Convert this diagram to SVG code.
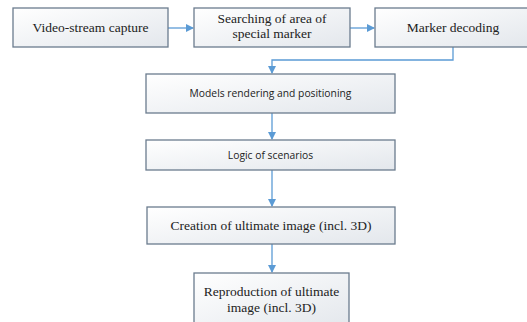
<svg xmlns="http://www.w3.org/2000/svg" width="527" height="322" viewBox="0 0 527 322">
<style>
.box{fill:url(#g);stroke:#6b7c8e;stroke-width:1.3}
.serif{font-family:"Liberation Serif","Times New Roman",serif;font-size:13.5px;fill:#222;text-anchor:middle}
.sans{font-family:"Open Sans","Liberation Sans",sans-serif;font-size:10.3px;fill:#222;text-anchor:middle}
.con{fill:none;stroke:#5b9bd5;stroke-width:1.3}
</style>
<defs>
<linearGradient id="g" x1="0" y1="0" x2="1" y2="1">
<stop offset="0" stop-color="#ffffff"/>
<stop offset="1" stop-color="#e3e7ec"/>
</linearGradient>
<marker id="a" markerWidth="8" markerHeight="8" refX="7" refY="4" orient="auto" markerUnits="userSpaceOnUse">
<path d="M0,0 L8,4 L0,8 Z" fill="#5b9bd5"/>
</marker>
</defs>
<rect width="527" height="322" fill="#fff"/>
<g id="connectors">
<line class="con" x1="168" y1="28" x2="193" y2="28" marker-end="url(#a)"/>
<line class="con" x1="350" y1="28" x2="374" y2="28" marker-end="url(#a)"/>
<polyline class="con" points="453,47 453,60 272,60 272,73" marker-end="url(#a)"/>
<line class="con" x1="272" y1="113" x2="272" y2="139" marker-end="url(#a)"/>
<line class="con" x1="272" y1="170" x2="272" y2="206" marker-end="url(#a)"/>
<line class="con" x1="272" y1="244" x2="272" y2="272" marker-end="url(#a)"/>
</g>
<g id="n1"><rect class="box" x="13" y="8" width="155" height="39"/><text class="serif" x="90.5" y="32">Video-stream capture</text></g>
<g id="n2"><rect class="box" x="194" y="8" width="156" height="39"/><text class="serif" x="272" y="23">Searching of area of</text><text class="serif" x="272" y="38">special marker</text></g>
<g id="n3"><rect class="box" x="375" y="8" width="156" height="39"/><text class="serif" x="453" y="32">Marker decoding</text></g>
<g id="n4"><rect class="box" x="146" y="74" width="249" height="39"/><text class="sans" x="270.5" y="97">Models rendering and positioning</text></g>
<g id="n5"><rect class="box" x="146" y="140" width="249" height="30"/><text class="sans" x="270.5" y="159">Logic of scenarios</text></g>
<g id="n6"><rect class="box" x="147" y="207" width="248" height="37"/><text class="serif" x="271" y="230">Creation of ultimate image (incl. 3D)</text></g>
<g id="n7"><rect class="box" x="194" y="273" width="155" height="55"/><text class="serif" x="271.5" y="296">Reproduction of ultimate</text><text class="serif" x="271.5" y="312">image (incl. 3D)</text></g>
</svg>
